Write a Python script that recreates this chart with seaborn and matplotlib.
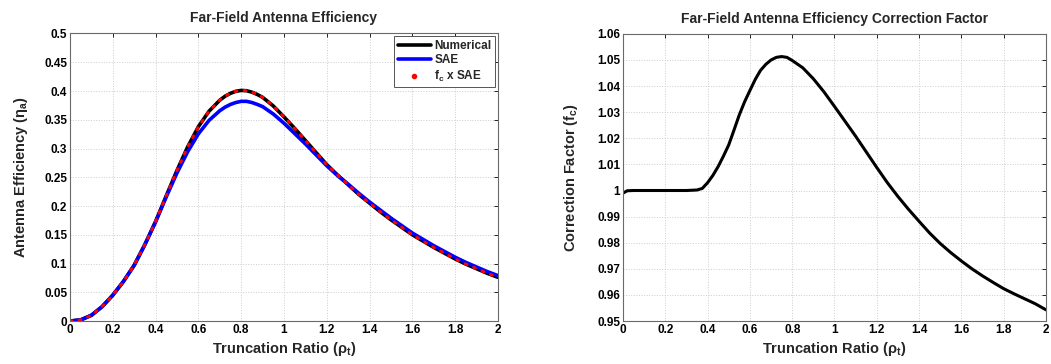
import seaborn as sns
import matplotlib.pyplot as plt
from matplotlib.lines import Line2D
from matplotlib.ticker import MultipleLocator, FuncFormatter

# truncation ratio samples (denser around the peak)
rho = [0.00, 0.05, 0.10, 0.15, 0.20, 0.25, 0.30, 0.35, 0.40, 0.45,
       0.50, 0.55, 0.60, 0.65, 0.70, 0.725, 0.75, 0.775, 0.80, 0.825,
       0.85, 0.875, 0.90, 0.95,
       1.00, 1.05, 1.10, 1.15, 1.20, 1.25, 1.30, 1.35, 1.40, 1.45,
       1.50, 1.55, 1.60, 1.65, 1.70, 1.75, 1.80, 1.85, 1.90, 1.95, 2.00]

numerical = [0.000, 0.002, 0.010, 0.025, 0.045, 0.069, 0.097, 0.133, 0.173, 0.218,
             0.262, 0.303, 0.338, 0.365, 0.384, 0.391, 0.396, 0.3995, 0.401, 0.4005,
             0.398, 0.394, 0.389, 0.374,
             0.355, 0.335, 0.314, 0.293, 0.272, 0.254, 0.237, 0.220, 0.205, 0.190,
             0.176, 0.163, 0.150, 0.139, 0.128, 0.118, 0.108, 0.099, 0.091, 0.083, 0.076]

sae = [0.000, 0.002, 0.010, 0.025, 0.045, 0.069, 0.097, 0.133, 0.1725, 0.216,
       0.2575, 0.2945, 0.3255, 0.349, 0.3657, 0.372, 0.3767, 0.380, 0.382, 0.382,
       0.380, 0.3767, 0.3729, 0.360,
       0.344, 0.326, 0.308, 0.289, 0.270, 0.253, 0.238, 0.222, 0.207, 0.193,
       0.179, 0.166, 0.153, 0.142, 0.131, 0.121, 0.111, 0.102, 0.094, 0.086, 0.079]

fc_sae = [0.000, 0.002, 0.010, 0.025, 0.045, 0.069, 0.097, 0.133, 0.173, 0.218,
          0.262, 0.303, 0.338, 0.365, 0.384, 0.391, 0.396, 0.3995, 0.401, 0.4005,
          0.398, 0.394, 0.389, 0.374,
          0.355, 0.335, 0.314, 0.293, 0.272, 0.254, 0.237, 0.220, 0.205, 0.190,
          0.176, 0.163, 0.150, 0.139, 0.128, 0.118, 0.108, 0.099, 0.091, 0.083, 0.076]

# correction factor curve
rho_fc = [0.00, 0.02, 0.05, 0.10, 0.15, 0.20, 0.25, 0.30, 0.35, 0.375, 0.40, 0.425,
          0.45, 0.475, 0.50, 0.525, 0.55, 0.575, 0.60, 0.625, 0.65, 0.675, 0.70,
          0.725, 0.75, 0.775, 0.80, 0.85, 0.90, 0.95,
          1.00, 1.05, 1.10, 1.15, 1.20, 1.25, 1.30, 1.35, 1.40, 1.45,
          1.50, 1.55, 1.60, 1.65, 1.70, 1.75, 1.80, 1.85, 1.90, 1.95, 2.00]

fc = [0.9990, 0.9999, 1.0000, 1.0000, 1.0000, 1.0000, 1.0000, 1.0000, 1.0002, 1.0008,
      1.0030, 1.0058, 1.0092, 1.0132, 1.0175, 1.0232, 1.0290, 1.0340, 1.0383, 1.0425,
      1.0460, 1.0483, 1.0500, 1.0510, 1.0513, 1.0510, 1.0498, 1.0470, 1.0428, 1.0378,
      1.0322, 1.0265, 1.0208, 1.0148, 1.0088, 1.0030, 0.9977, 0.9928, 0.9882, 0.9837,
      0.9797, 0.9762, 0.9730, 0.9700, 0.9673, 0.9648, 0.9624, 0.9604, 0.9585, 0.9566, 0.9543]

sns.set_theme(style="white")
plt.rcParams["font.family"] = ["Liberation Sans", "DejaVu Sans"]
plt.rcParams.update({
    "font.weight": "bold",
    "axes.titleweight": "bold",
    "axes.labelweight": "bold",
    "mathtext.fontset": "custom",
    "mathtext.rm": "Liberation Sans:bold",
    "mathtext.it": "Liberation Sans:bold",
    "mathtext.bf": "Liberation Sans:bold",
})

fig = plt.figure(figsize=(10.51, 3.64), dpi=100)
ax1 = fig.add_axes([0.0666, 0.118, 0.4072, 0.79])
ax2 = fig.add_axes([0.5928, 0.118, 0.4024, 0.789])

fmt = FuncFormatter(lambda v, p: "%g" % round(v, 4))


def style_axes(ax):
    ax.set_xlim(0, 2)
    ax.xaxis.set_major_locator(MultipleLocator(0.2))
    ax.xaxis.set_major_formatter(fmt)
    ax.yaxis.set_major_formatter(fmt)
    ax.grid(True, linestyle=":", color="#cccccc", linewidth=0.7)
    ax.tick_params(direction="in", top=True, right=True, length=3, width=0.6,
                   labelsize=8.5, pad=2, colors="black")
    for s in ax.spines.values():
        s.set_color("#6a6a6a")
        s.set_linewidth(0.8)
    ax.set_xlabel(r"Truncation Ratio ($\mathrm{\rho_t}$)", fontsize=10.5, labelpad=3)


# left panel
sns.lineplot(x=rho, y=numerical, ax=ax1, color="black", linewidth=2.6, legend=False)
sns.lineplot(x=rho, y=sae, ax=ax1, color="#0000ff", linewidth=2.6, legend=False)
sns.lineplot(x=rho, y=fc_sae, ax=ax1, color="red", linewidth=2.2,
             linestyle=(0, (0.6, 2.4)), dash_capstyle="round", legend=False)
ax1.set_ylim(0, 0.5)
ax1.yaxis.set_major_locator(MultipleLocator(0.05))
style_axes(ax1)
ax1.set_ylabel(r"Antenna Efficiency ($\mathrm{\eta_a}$)", fontsize=10.5, labelpad=10)
ax1.set_title("Far-Field Antenna Efficiency", fontsize=10, pad=8)

handles = [Line2D([], [], color="black", linewidth=2.6),
           Line2D([], [], color="#0000ff", linewidth=2.6),
           Line2D([], [], color="red", marker=".", markersize=6, linestyle="none")]
labels = ["Numerical", "SAE", r"$\mathrm{f_c}$ x SAE"]
leg = ax1.legend(handles, labels, loc="upper right", fontsize=8.5, frameon=True,
                 fancybox=False, framealpha=1, edgecolor="#555555",
                 handlelength=2.8, handletextpad=0.3, borderaxespad=0.25,
                 borderpad=0.3, labelspacing=0.2)
leg.get_frame().set_linewidth(0.7)

# right panel
sns.lineplot(x=rho_fc, y=fc, ax=ax2, color="black", linewidth=2.2, legend=False)
ax2.set_ylim(0.95, 1.06)
ax2.yaxis.set_major_locator(MultipleLocator(0.01))
style_axes(ax2)
ax2.set_ylabel(r"Correction Factor ($\mathrm{f_c}$)", fontsize=10.5, labelpad=12)
ax2.set_title("Far-Field Antenna Efficiency Correction Factor", fontsize=10, pad=8)

fig.savefig("out.png", dpi=100)
